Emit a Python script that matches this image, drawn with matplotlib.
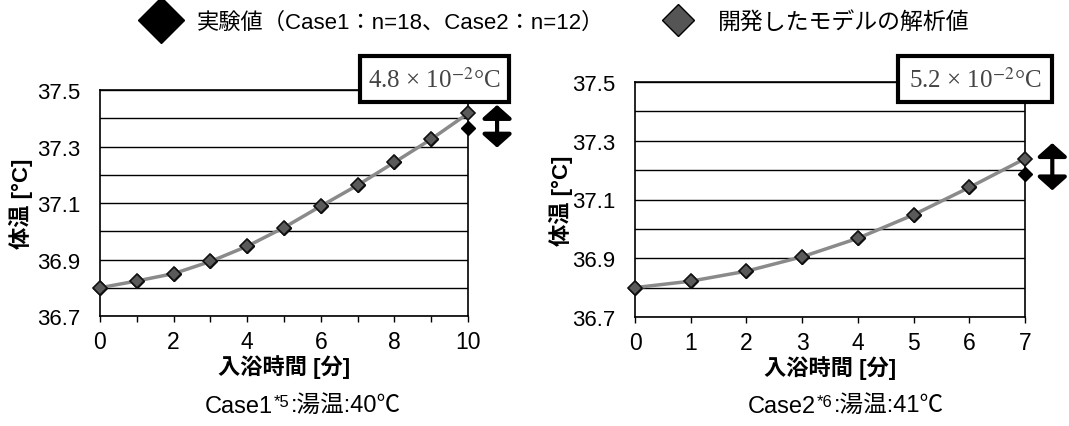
import numpy as np
import matplotlib
matplotlib.use('Agg')
import matplotlib.pyplot as plt
from matplotlib.lines import Line2D
from matplotlib.patches import Rectangle
from matplotlib.ticker import MultipleLocator, FixedLocator

plt.rcParams['font.family'] = ['Liberation Sans', 'Noto Sans CJK JP', 'DejaVu Sans']
plt.rcParams['mathtext.fontset'] = 'stix'

# データ (Case1: 湯温40℃, Case2: 湯温41℃)
t1 = np.arange(0, 11)
model1 = [36.80, 36.824, 36.850, 36.893, 36.947, 37.013, 37.089, 37.163, 37.244, 37.326, 37.417]
exp1 = [36.80, 36.824, 36.850, 36.893, 36.947, 37.013, 37.089, 37.163, 37.244, 37.326, 37.366]

t2 = np.arange(0, 8)
model2 = [36.80, 36.822, 36.856, 36.905, 36.968, 37.048, 37.141, 37.239]
exp2 = [36.80, 36.822, 36.856, 36.905, 36.968, 37.048, 37.141, 37.187]

yticks = [36.7, 36.9, 37.1, 37.3, 37.5]
legend_labels = ['実験値（Case1：n=18、Case2：n=12）', '開発したモデルの解析値']
captions = [('Case1', '*5', ':湯温:40℃'), ('Case2', '*6', ':湯温:41℃')]
diffs = ['4.8 × 10$^{-2}$°C', '5.2 × 10$^{-2}$°C']

W, H = 1069, 427
fig = plt.figure(figsize=(W / 100, H / 100), dpi=100)


def fx(px):
    return px / W


def fy(py):
    return 1 - py / H


ax1 = fig.add_axes([fx(100), fy(317), fx(468 - 100), fy(91) - fy(317)])
ax2 = fig.add_axes([fx(635), fy(318), fx(1025 - 635), fy(83) - fy(318)])

setups = [
    (ax1, t1, model1, exp1, 10, 2, captions[0], 205, diffs[0], (360, 509), (10.79, 37.447, 37.296), -0.182),
    (ax2, t2, model2, exp2, 7, 1, captions[1], 748, diffs[1], (898, 1052), (7.49, 37.292, 37.131), -0.159),
]

for ax, t, mod, ex, xmax, xstep, cap, capx, dtxt, (bx0, bx1), (ax_x, ay0, ay1), ylx in setups:
    ax.plot(t, ex, linestyle='none', marker='D', markersize=7,
            markerfacecolor='black', markeredgecolor='black', zorder=3, clip_on=False)
    ax.plot(t, mod, color='#8a8a8a', lw=2.5, marker='D', markersize=7,
            markerfacecolor='#5a5a5a', markeredgecolor='#111111', markeredgewidth=1.2,
            zorder=4, clip_on=False)

    ax.set_xlim(0, xmax)
    ax.set_ylim(36.7, 37.5)
    ax.xaxis.set_major_locator(MultipleLocator(xstep))
    ax.xaxis.set_minor_locator(MultipleLocator(1))
    ax.yaxis.set_major_locator(FixedLocator(yticks))
    ax.yaxis.set_minor_locator(MultipleLocator(0.1))
    ax.grid(True, which='both', axis='y', color='black', lw=1.0)
    ax.set_axisbelow(True)
    ax.tick_params(axis='x', which='both', direction='out', length=4, width=1,
                   labelsize=16.5, pad=6)
    ax.tick_params(axis='y', which='both', length=0, labelsize=16, pad=14)
    ax.yaxis.set_major_formatter(plt.FuncFormatter(lambda v, p: f'{v:.1f}'))
    for s in ax.spines.values():
        s.set_color('black')
        s.set_linewidth(1.2)

    ax.set_ylabel('体温 [°C]', fontsize=16, fontweight='bold')
    ax.yaxis.set_label_coords(ylx, 0.5)
    ax.set_xlabel('入浴時間 [分]', fontsize=16, fontweight='bold', labelpad=1)

    # キャプション (上付き注記つき)
    c1 = fig.text(fx(capx), fy(407), cap[0], ha='left', va='center', fontsize=17)
    c2 = ax.annotate(cap[1], xy=(1.0, 1.0), xycoords=c1, ha='left', va='top',
                     fontsize=12, xytext=(0.5, 1), textcoords='offset points')
    ax.annotate(cap[2], xy=(1.0, 0.5), xycoords=c2, ha='left', va='center', fontsize=17,
                xytext=(1, -3), textcoords='offset points')

    # 差の矢印
    ax.annotate('', xy=(ax_x, ay1), xytext=(ax_x, ay0), annotation_clip=False,
                arrowprops=dict(arrowstyle='<|-|>,head_length=0.4,head_width=0.45',
                                mutation_scale=20, lw=3, color='black',
                                shrinkA=0, shrinkB=0))

    # 差の値ボックス
    fig.patches.append(Rectangle((fx(bx0), fy(103)), fx(bx1 - bx0), fy(57) - fy(103),
                                 transform=fig.transFigure, facecolor='white',
                                 edgecolor='black', lw=3, zorder=5))
    fig.text(fx((bx0 + bx1) / 2), fy(80), dtxt, ha='center', va='center',
             fontsize=18, color='#444444', family='Liberation Serif', zorder=6)

h1 = Line2D([], [], linestyle='none', marker='D', markersize=23,
            markerfacecolor='black', markeredgecolor='black')
h2 = Line2D([], [], linestyle='none', marker='D', markersize=16,
            markerfacecolor='#555555', markeredgecolor='black')
fig.legend([h1], [legend_labels[0]], loc='center left', bbox_to_anchor=(fx(148), fy(23)),
           frameon=False, fontsize=16, handletextpad=1.0, handlelength=1.2,
           borderaxespad=0, borderpad=0)
fig.legend([h2], [legend_labels[1]], loc='center left', bbox_to_anchor=(fx(668), fy(23)),
           frameon=False, fontsize=16.5, handletextpad=1.3, handlelength=0.9,
           borderaxespad=0, borderpad=0)

fig.savefig('out.png', dpi=100)
